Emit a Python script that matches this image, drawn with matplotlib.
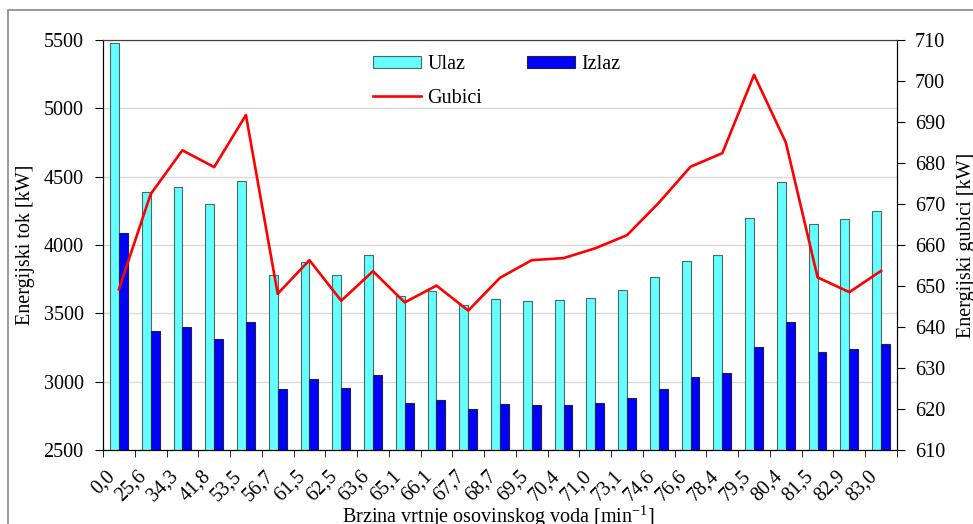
import numpy as np
from matplotlib import pyplot as plt
from matplotlib.patches import Rectangle

brzina = ['0,0', '25,6', '34,3', '41,8', '53,5', '56,7', '61,5', '62,5', '63,6',
          '65,1', '66,1', '67,7', '68,7', '69,5', '70,4', '71,0', '73,1', '74,6',
          '76,6', '78,4', '79,5', '80,4', '81,5', '82,9', '83,0']
ulaz = [5475, 4385, 4422, 4300, 4466, 3780, 3873, 3780, 3924, 3624, 3661, 3559, 3602,
        3590, 3595, 3614, 3668, 3763, 3880, 3924, 4195, 4461, 4151, 4188, 4246]
izlaz = [4085, 3373, 3398, 3310, 3434, 2946, 3017, 2951, 3051, 2841, 2866, 2798, 2834,
         2827, 2829, 2844, 2880, 2949, 3032, 3061, 3251, 3437, 3215, 3239, 3278]
gubici = [649.2, 672.4, 683.1, 679.0, 691.7, 648.1, 656.3, 646.4, 653.6, 646.0, 650.1,
          644.0, 652.0, 656.3, 656.8, 659.2, 662.4, 670.3, 679.1, 682.4, 701.5, 685.0,
          652.1, 648.5, 653.7]

plt.rcParams['font.family'] = 'Liberation Serif'
plt.rcParams['mathtext.fontset'] = 'custom'
plt.rcParams['mathtext.rm'] = 'Liberation Serif'
fs = 14.5

fig = plt.figure(figsize=(9.73, 5.24), dpi=100)
ax = fig.add_axes([103 / 973, 1 - 450 / 524, 794 / 973, 410 / 524])

x = np.arange(len(brzina))
w = 0.28
b1 = ax.bar(x - w / 2, ulaz, w, color='#66ffff', edgecolor='#4a6a6a', linewidth=0.8,
            label='Ulaz', zorder=2)
b2 = ax.bar(x + w / 2, izlaz, w, color='#0000ff', edgecolor='#202040', linewidth=0.8,
            label='Izlaz', zorder=2)
ax.set_ylim(2500, 5500)
ax.set_xlim(-0.5, len(brzina) - 0.5)
ax.set_yticks(np.arange(2500, 5501, 500))
ax.yaxis.grid(True, color='#d9d9d9', linewidth=1)
ax.set_axisbelow(True)
ax.set_xticks(x)
ax.set_xticklabels(brzina, rotation=45, ha='right', va='top')
ax.set_xticks(np.arange(-0.5, len(brzina)), minor=True)
ax.tick_params(axis='x', which='major', length=0, pad=12, labelsize=fs)
ax.tick_params(axis='x', which='minor', length=5, direction='out')
ax.tick_params(axis='y', length=6, labelsize=fs, pad=8)
ax.spines['top'].set_color('#404040')

ax2 = ax.twinx()
l1, = ax2.plot(x, gubici, color='#ff0000', linewidth=1.9, label='Gubici')
ax2.set_ylim(610, 710)
ax2.set_yticks(np.arange(610, 711, 10))
ax2.tick_params(axis='y', length=6, labelsize=fs, pad=7)
ax2.spines['top'].set_color('#404040')

ax.legend([b1, l1, b2], ['Ulaz', 'Gubici', 'Izlaz'], ncol=2, frameon=False,
          loc='upper left', bbox_to_anchor=(373 / 973, 1 - 55 / 524),
          bbox_transform=fig.transFigure, fontsize=fs, handlelength=2.4,
          handleheight=0.6, columnspacing=2.2, labelspacing=0.75, handletextpad=0.3,
          borderaxespad=0, borderpad=0)

fig.text(26 / 973, 1 - 245 / 524, 'Energijski tok [kW]', rotation=90,
         ha='center', va='center', fontsize=fs)
fig.text(966 / 973, 1 - 245 / 524, 'Energijski gubici [kW]', rotation=90,
         ha='center', va='center', fontsize=fs)
fig.text(498 / 973, 1 - 517 / 524, r'Brzina vrtnje osovinskog voda [min$^{\mathregular{-1}}$]',
         ha='center', va='center', fontsize=fs)

fig.patches.append(Rectangle((8 / 973, -0.1), 1.2, 1.1 - 10 / 524, fill=False,
                             edgecolor='#888888', linewidth=1.2,
                             transform=fig.transFigure, figure=fig))

fig.savefig('out.png', dpi=100)
